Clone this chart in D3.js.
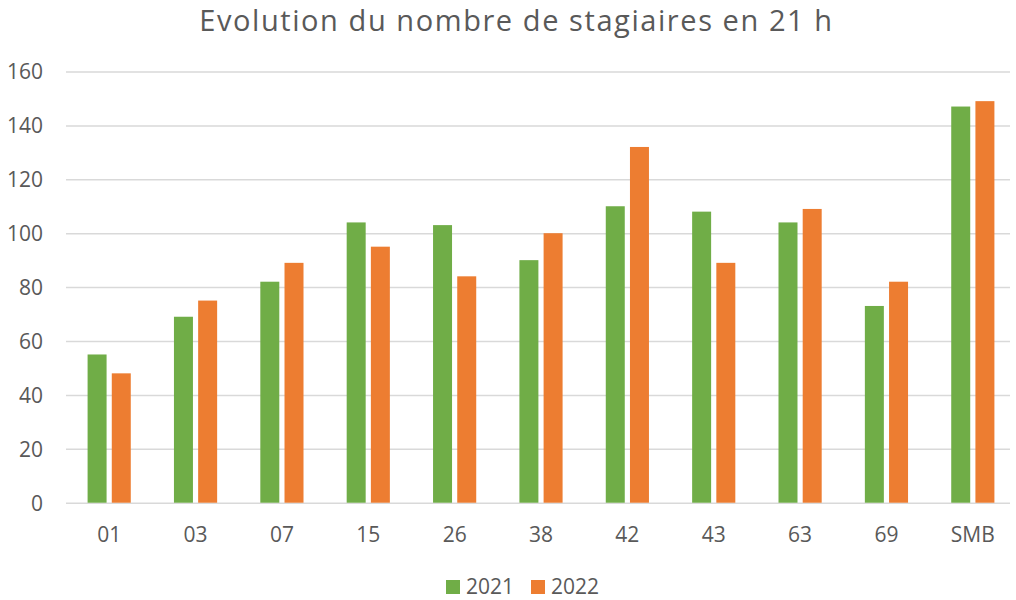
<!DOCTYPE html>
<html>
<head>
<meta charset="utf-8">
<script src="https://cdn.jsdelivr.net/npm/d3@7"></script>
<style>
  body { margin: 0; background: #fff; }
  text { font-family: "Open Sans", sans-serif; fill: #595959; }
</style>
</head>
<body>
<div id="chartContainer"></div>
<script>
const categories = ["01", "03", "07", "15", "26", "38", "42", "43", "63", "69", "SMB"];
const series = ["2021", "2022"];
const values2021 = [55, 69, 82, 104, 103, 90, 110, 108, 104, 73, 147];
const values2022 = [48, 75, 89, 95, 84, 100, 132, 89, 109, 82, 149];
const yTicks = [0, 20, 40, 60, 80, 100, 120, 140, 160];
const colors = { "2021": "#70AD47", "2022": "#ED7D31" };
const title = "Evolution du nombre de stagiaires en 21 h";

const width = 1016, height = 600;
const plot = { left: 66, right: 1016, gridRight: 1010, top: 71.5, bottom: 502.7 };

const svg = d3.select("#chartContainer")
    .append("svg")
    .attr("width", width)
    .attr("height", height);

const x0 = d3.scaleBand()
    .domain(categories)
    .range([plot.left, plot.right])
    .paddingInner(0.5)
    .paddingOuter(0.25);

const x1 = d3.scaleBand()
    .domain(series)
    .range([0, x0.bandwidth()])
    .paddingInner(0.215);

const y = d3.scaleLinear()
    .domain([0, 160])
    .range([plot.bottom, plot.top]);

// gridlines
svg.append("g")
    .attr("class", "grid")
    .attr("transform", `translate(${plot.left},0)`)
    .call(d3.axisLeft(y).tickValues(yTicks).tickSize(-(plot.gridRight - plot.left)).tickFormat(""))
    .call(g => g.select(".domain").remove())
    .call(g => g.selectAll("line").attr("stroke", "#D9D9D9").attr("stroke-width", 1.5));

// y labels
svg.append("g")
    .attr("class", "axis y-axis")
    .attr("transform", `translate(43,0)`)
    .call(d3.axisLeft(y).tickValues(yTicks).tickSize(0).tickPadding(0))
    .call(g => g.select(".domain").remove())
    .call(g => g.selectAll("text")
        .attr("font-family", "Open Sans")
        .attr("font-size", 21)
        .attr("fill", "#595959")
        .attr("dy", "0.35em"));

// bars
const rows = categories.map((c, i) => ({ cat: c, vals: [
    { key: "2021", value: values2021[i] },
    { key: "2022", value: values2022[i] }
] }));

svg.append("g")
    .attr("class", "dataset")
    .selectAll("g")
    .data(rows)
    .enter().append("g")
      .attr("transform", d => `translate(${x0(d.cat)},0)`)
    .selectAll("rect")
    .data(d => d.vals)
    .enter().append("rect")
      .attr("x", d => x1(d.key))
      .attr("y", d => y(d.value))
      .attr("width", x1.bandwidth())
      .attr("height", d => y(0) - y(d.value))
      .attr("fill", d => colors[d.key]);

// x labels
svg.append("g")
    .attr("class", "axis x-axis")
    .selectAll("text")
    .data(categories)
    .enter().append("text")
      .attr("x", d => x0(d) + x0.bandwidth() / 2)
      .attr("y", 542)
      .attr("text-anchor", "middle")
      .attr("font-size", 21)
      .text(d => d);

// title, lightly spread to the reference width
const t = svg.append("text")
    .attr("id", "title")
    .attr("x", 516.5)
    .attr("y", 31)
    .attr("text-anchor", "middle")
    .attr("font-size", 29)
    .text(title);
const tw = t.node().getComputedTextLength();
t.attr("letter-spacing", Math.max(0, (633 - tw) / (title.length - 1)).toFixed(2));

// legend
const legend = svg.append("g").attr("class", "legend");
const legendX = [446, 531];
series.forEach((s, i) => {
    legend.append("rect")
        .attr("x", legendX[i]).attr("y", 580)
        .attr("width", 14).attr("height", 14)
        .attr("fill", colors[s]);
    legend.append("text")
        .attr("x", legendX[i] + 20).attr("y", 593.5)
        .attr("font-size", 21)
        .text(s);
});
</script>
</body>
</html>
